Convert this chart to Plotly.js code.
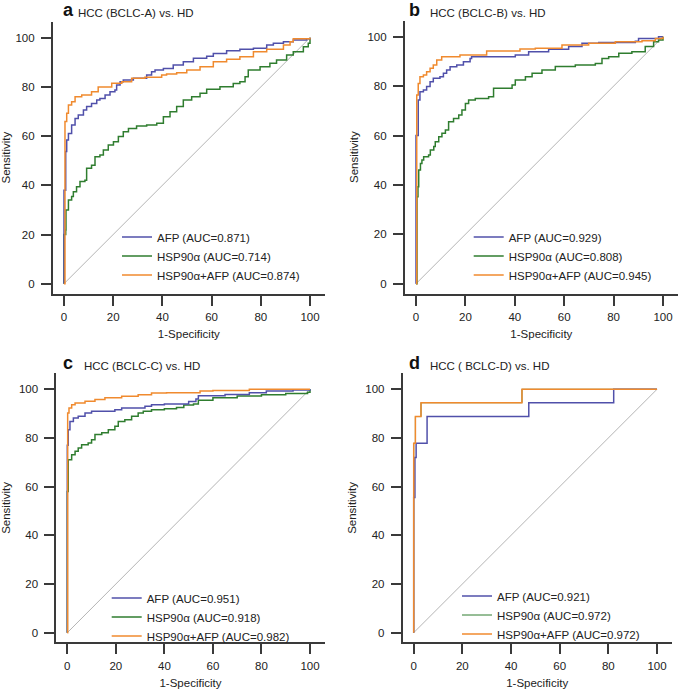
<!DOCTYPE html>
<html>
<head>
<meta charset="utf-8">
<script src="https://cdn.plot.ly/plotly-3.0.1.min.js"></script>
<style>html,body{margin:0;padding:0;background:#fff;}#chart{width:685px;height:692px;}</style>
</head>
<body>
<div id="chart"></div>
<script>
// ---------------- DATA ----------------
const panelLetters = ["a", "b", "c", "d"];
const panelTitles = ["HCC (BCLC-A) vs. HD", "HCC (BCLC-B) vs. HD", "HCC (BCLC-C) vs. HD", "HCC ( BCLC-D) vs. HD"];
const seriesNames = ["AFP", "HSP90\u03b1", "HSP90\u03b1+AFP"];
const aucA = ["0.871", "0.714", "0.874"];
const aucB = ["0.929", "0.808", "0.945"];
const aucC = ["0.951", "0.918", "0.982"];
const aucD = ["0.921", "0.972", "0.972"];
const tickValues = [0, 20, 40, 60, 80, 100];
const diagX = [0, 100];
const diagY = [0, 100];

// Panel a
const aAfpX = [0, 0, 0.7, 0.7, 1.1, 1.8, 3.1, 4.5, 5.8, 7.9, 9.2, 11.2, 13.3, 14.6, 16.7, 18.7, 20.7, 21.4, 22.8, 24.1, 28.2, 30.9, 33.6, 35.6, 37, 40.4, 44.4, 48.5, 52.6, 58, 60.7, 66.1, 71.5, 77, 82.4, 85.1, 89.2, 93.2, 98.6, 100];
const aAfpY = [0, 38, 38, 53.7, 58.4, 61.1, 64.5, 67.2, 68.6, 70.6, 72, 73.3, 74.7, 75.3, 76.7, 78, 78.7, 80.8, 82.1, 82.8, 83.5, 83.5, 84.8, 86.2, 86.9, 87.5, 88.9, 90.2, 91.6, 92.5, 93.6, 94.7, 95.3, 95.7, 97, 97.7, 98.4, 99.1, 99.6, 100];
const aHspX = [0, 0, 0.7, 0.8, 1.8, 3.1, 3.8, 5.1, 6.5, 8.5, 9.2, 11.2, 12.6, 14.6, 16, 18, 20.1, 22.1, 24.1, 26.2, 29.5, 33.6, 37.7, 40.4, 43.1, 45.8, 48.5, 51.9, 55.3, 58, 63.4, 68.8, 71.5, 73.6, 74.9, 79.7, 83.7, 86.4, 90.5, 93.2, 97.3, 99.3, 100];
const aHspY = [0, 20, 21.8, 30, 34, 35.4, 37.4, 39.4, 41.5, 42.1, 46.9, 48.2, 51.6, 52.3, 54.3, 56.4, 57.7, 59.8, 61.8, 63.1, 64.1, 64.5, 65.2, 67.9, 69.9, 72, 74.7, 76, 77.4, 79, 80.1, 81.4, 82.1, 84.1, 86.9, 88.2, 89.6, 90.9, 93, 94.3, 96.3, 97.7, 100];
const aCombX = [0, 0.4, 1.1, 1.8, 3.1, 4.5, 7.2, 11.2, 13.9, 19.4, 23.5, 27.5, 32.9, 39.7, 41.7, 45.8, 49.9, 55.3, 60.7, 66.1, 71.5, 77, 82.4, 89.2, 91.9, 93.2, 100];
const aCombY = [0, 65.9, 69.3, 72.6, 74, 76, 76.7, 78, 80, 81.5, 82.1, 83.5, 83.9, 84.8, 85.2, 85.8, 86.9, 88.2, 90.2, 91.2, 92.3, 94.3, 95.3, 97, 98.4, 99.6, 100];

// Panel b
const bAfpX = [0, 0, 0.9, 0.9, 1.6, 3, 4.3, 5.7, 7, 9.7, 11.1, 12.4, 13.8, 16.5, 19.2, 21.9, 22.5, 38.1, 40.2, 45.6, 53.7, 61.8, 67.2, 74, 88.8, 90.1, 98.2, 100];
const bAfpY = [0, 60, 60, 74.4, 77.7, 78.4, 79.8, 81.8, 83.2, 83.8, 85.2, 86.5, 87.8, 88.5, 89.9, 91.2, 91.9, 91.9, 92.6, 93.9, 94.9, 96, 97.3, 97.7, 98.2, 99.3, 100, 100];
const bHspX = [0, 0.4, 0.8, 1.1, 1.8, 2.4, 3.1, 5.1, 5.8, 7.2, 7.8, 9.2, 10.5, 11.9, 13.2, 15.2, 17.3, 18.6, 20, 21.3, 24, 29.4, 31.4, 37.5, 38.9, 40.2, 44.3, 47, 51, 56.4, 64.5, 72.6, 75.3, 78, 82.1, 87.4, 92.8, 96.2, 98.2, 100];
const bHspY = [0, 35.2, 39.3, 46, 48.7, 50.1, 51.4, 52.1, 54.1, 55.5, 57.5, 59.5, 60.9, 62.2, 65.6, 66.9, 68.3, 70.3, 73, 74.4, 75, 75.7, 79.1, 79.1, 80.4, 82.5, 83.8, 85.2, 86.5, 87.9, 88.5, 89.2, 91.2, 91.9, 93.3, 93.9, 96, 98, 98.7, 100];
const bCombX = [0, 0.3, 0.9, 1.6, 3, 4.3, 5.7, 7, 8.4, 10.4, 17.8, 28.6, 42.1, 48.3, 59.1, 69.9, 80.7, 91.5, 96.9, 100];
const bCombY = [0, 76.4, 81.1, 83.8, 84.5, 85.8, 87.2, 88.5, 90.6, 91.9, 92.6, 94.2, 95, 95.3, 96.6, 97.3, 98, 98.4, 99.3, 100];

// Panel c
const cAfpX = [0, 0, 0.4, 0.4, 1.1, 2.5, 4.5, 7.3, 10, 15.5, 19.6, 22.4, 32, 34.7, 40, 50, 53, 54, 65, 75, 82, 93, 100];
const cAfpY = [0, 77, 77, 83.4, 86.8, 88.2, 88.9, 90.3, 91, 91, 91.6, 92.3, 93, 93.7, 94, 95, 96, 97.3, 97.9, 98.6, 99.3, 99.7, 100];
const cHspX = [0, 0, 0.4, 0.4, 1.8, 3.2, 4.5, 5.9, 8.6, 10, 11.4, 14.2, 16.9, 19.6, 21, 23.7, 26.5, 29.2, 31.3, 34.7, 40, 45, 48, 52, 54, 60, 70, 80, 90, 99, 100];
const cHspY = [0, 58, 58, 71.1, 73.1, 74.5, 75.9, 77.2, 77.9, 79.3, 81.4, 82.1, 83.4, 84.8, 86.8, 87.5, 88.9, 90.3, 91, 91.6, 92, 92.5, 93.5, 94, 95.5, 96.5, 97.2, 97.8, 98.3, 98.8, 100];
const cCombX = [0, 0.15, 0.7, 1.8, 3.2, 7.3, 11.4, 15.5, 22.4, 29.2, 34.7, 40.9, 54.7, 60, 75, 100];
const cCombY = [0, 90.3, 92.3, 93.7, 94.4, 95.1, 95.8, 96.5, 97.1, 97.8, 98.5, 98.6, 99.3, 99.5, 100, 100];

// Panel d
const dAfpX = [0, 0, 0.5, 0.5, 1, 1, 5.5, 5.5, 47.3, 47.3, 82.2, 82.2, 100];
const dAfpY = [0, 55.5, 55.5, 72, 72, 77.8, 77.8, 88.8, 88.8, 94.5, 94.5, 100, 100];
const dHspX = [0, 0, 0.7, 0.7, 3, 3, 44.5, 44.5, 100];
const dHspY = [0, 77.8, 77.8, 88.8, 88.8, 94.5, 94.5, 100, 100];
const dCombX = [0, 0, 0.7, 0.7, 3, 3, 44.5, 44.5, 100];
const dCombY = [0, 77.8, 77.8, 88.8, 88.8, 94.5, 94.5, 100, 100];

// ---------------- STYLE / LAYOUT ----------------
const W = 685, H = 692;
const FONT = "Arial, 'Liberation Sans', Helvetica, sans-serif";
const TXT = "#222222";
const AXC = "#3a3a3a";
const colors = ["#5050aa", "#2f7d2f", "#f08a2e"];
const X_RANGE = [-4.5, 106], Y_RANGE = [-4, 106.5];

// pixel positions of value 0 and 100 on each panel's axes
const geom = [
  {x0: 64, x100: 310, y0: 283.7, y100: 37.7},
  {x0: 416, x100: 663, y0: 283.7, y100: 36.7},
  {x0: 67.3, x100: 310, y0: 632.7, y100: 389.3},
  {x0: 413.7, x100: 657, y0: 632.7, y100: 389.3}
];
// legend text start (px) and middle-row centre (px)
const legPos = [
  {tx: 157, cy: 256}, {tx: 508.7, cy: 256}, {tx: 146.7, cy: 617}, {tx: 497, cy: 615}
];
// title positions (px): letter left, title left, baseline
const titlePos = [
  {lx: 61.5, tx: 77, by: 17}, {lx: 408, tx: 429, by: 17},
  {lx: 61.5, tx: 82.5, by: 369.5}, {lx: 408, tx: 429, by: 369.5}
];

const panels = [
  {auc: aucA, xs: [aAfpX, aHspX, aCombX], ys: [aAfpY, aHspY, aCombY]},
  {auc: aucB, xs: [bAfpX, bHspX, bCombX], ys: [bAfpY, bHspY, bCombY]},
  {auc: aucC, xs: [cAfpX, cHspX, cCombX], ys: [cAfpY, cHspY, cCombY]},
  {auc: aucD, xs: [dAfpX, dHspX, dCombX], ys: [dAfpY, dHspY, dCombY]}
];

const traces = [];
const layout = {
  width: W, height: H,
  margin: {l: 0, r: 0, t: 0, b: 0},
  paper_bgcolor: "#ffffff", plot_bgcolor: "rgba(0,0,0,0)",
  font: {family: FONT, size: 11, color: TXT},
  showlegend: true,
  annotations: []
};

panels.forEach((p, i) => {
  const sfx = i === 0 ? "" : String(i + 1);
  const xa = "x" + sfx, ya = "y" + sfx;
  const legName = "legend" + sfx;
  // diagonal reference line
  traces.push({x: diagX, y: diagY, xaxis: xa, yaxis: ya, mode: "lines",
    line: {color: "#b4b4b4", width: 1}, showlegend: false, hoverinfo: "skip"});
  // draw order: green, blue, orange; legend order AFP, HSP90a, combo
  [1, 0, 2].forEach(k => {
    // in panel d the green curve lies exactly under the orange one
    const w = (i === 3 && k === 1) ? 1.0 : 1.5;
    traces.push({
      x: p.xs[k], y: p.ys[k], xaxis: xa, yaxis: ya, mode: "lines",
      line: {color: colors[k], width: w, shape: "hv"},
      name: seriesNames[k] + " (AUC=" + p.auc[k] + ")",
      legend: legName, legendrank: k + 1
    });
  });

  const g = geom[i];
  const sx = (g.x100 - g.x0) / 100, sy = (g.y0 - g.y100) / 100;
  const dx = [(g.x0 + X_RANGE[0] * sx) / W, (g.x0 + X_RANGE[1] * sx) / W];
  const dy = [1 - (g.y0 - Y_RANGE[0] * sy) / H, 1 - (g.y0 - Y_RANGE[1] * sy) / H];
  const axCommon = {
    showline: true, linecolor: AXC, linewidth: 2, mirror: false,
    ticks: "outside", ticklen: 10, tickwidth: 2, tickcolor: AXC,
    showgrid: false, zeroline: false, tickvals: tickValues,
    tickfont: {family: FONT, size: 11.5, color: TXT}, fixedrange: true
  };
  layout["xaxis" + sfx] = Object.assign({}, axCommon, {
    domain: dx, range: X_RANGE, anchor: ya, ticklabelstandoff: 2,
    title: {text: "1-Specificity", font: {family: FONT, size: 11.5, color: TXT}, standoff: 8}
  });
  layout["yaxis" + sfx] = Object.assign({}, axCommon, {
    domain: dy, range: Y_RANGE, anchor: xa, ticklabelstandoff: 4,
    title: {text: "Sensitivity", font: {family: FONT, size: 11.5, color: TXT}, standoff: 6}
  });
  const lp = legPos[i];
  layout[legName] = {
    x: (lp.tx - 40) / W, xanchor: "left",
    y: 1 - lp.cy / H, yanchor: "middle",
    bgcolor: "rgba(0,0,0,0)", borderwidth: 0,
    font: {family: FONT, size: 11.5, color: TXT},
    traceorder: "normal", itemclick: false, itemdoubleclick: false
  };
  const tp = titlePos[i];
  layout.annotations.push({
    xref: "paper", yref: "paper", x: tp.lx / W, y: 1 - tp.by / H,
    xanchor: "left", yanchor: "bottom", showarrow: false,
    text: "<b>" + panelLetters[i] + "</b>", font: {family: FONT, size: 18, color: "#111"},
    yshift: -4, borderpad: 0
  });
  layout.annotations.push({
    xref: "paper", yref: "paper", x: tp.tx / W, y: 1 - tp.by / H,
    xanchor: "left", yanchor: "bottom", showarrow: false,
    text: panelTitles[i], font: {family: FONT, size: 11.5, color: TXT},
    yshift: -3, borderpad: 0
  });
});

Plotly.newPlot("chart", traces, layout, {displayModeBar: false, staticPlot: true});
</script>
</body>
</html>
